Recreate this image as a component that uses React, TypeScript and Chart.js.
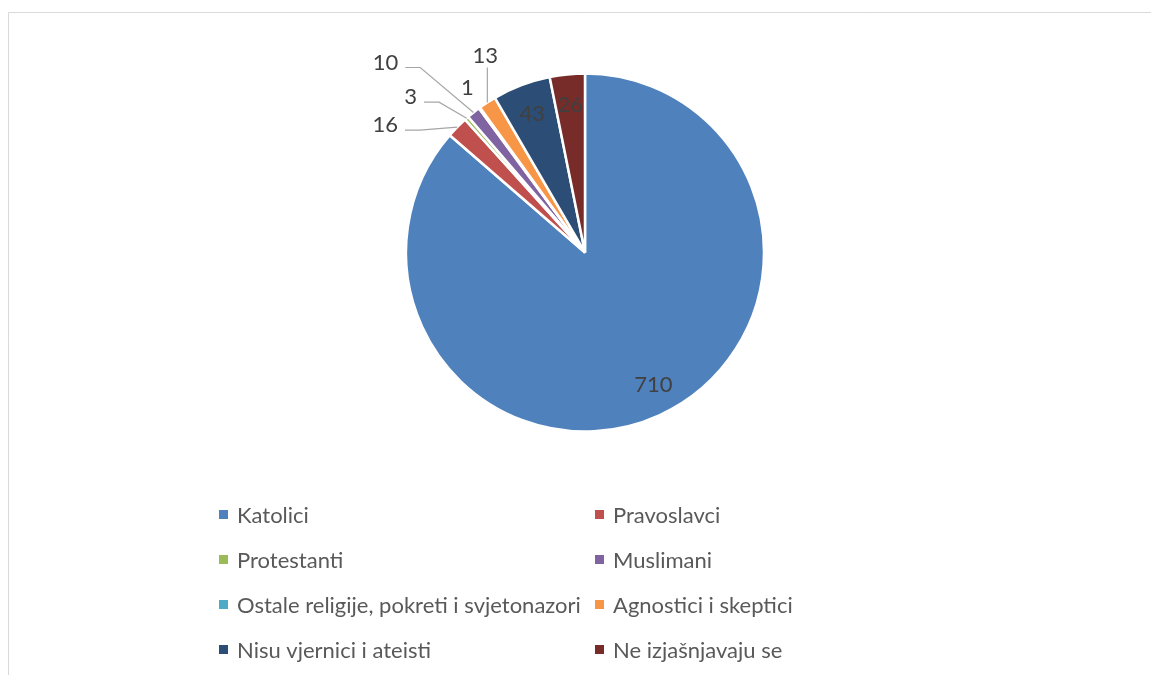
import React, { useEffect, useRef } from "react";
import { Chart, registerables } from "chart.js";

Chart.register(...registerables);

const categories = [
  "Katolici",
  "Pravoslavci",
  "Protestanti",
  "Muslimani",
  "Ostale religije, pokreti i svjetonazori",
  "Agnostici i skeptici",
  "Nisu vjernici i ateisti",
  "Ne izjašnjavaju se",
];
const counts = [710, 16, 3, 10, 1, 13, 43, 26];
const sliceColors = [
  "#4F81BD",
  "#C0504D",
  "#9BBB59",
  "#8064A2",
  "#4BACC6",
  "#F79646",
  "#2C4D75",
  "#772C2A",
];

// label placement: null = inside the slice, otherwise offset from the slice's outer edge
const labelOffsets: ([number, number] | null)[] = [
  null,
  [-72, -2],
  [-56, -21],
  [-88, -50],
  [-12, -20],
  [-2, -47],
  null,
  null,
];

const FONT = 'Lato, "Open Sans", sans-serif';

const framePlugin = {
  id: "frame",
  beforeDraw(chart: any) {
    const ctx = chart.ctx;
    ctx.save();
    ctx.fillStyle = "#ffffff";
    ctx.fillRect(0, 0, chart.width, chart.height);
    ctx.strokeStyle = "#d9d9d9";
    ctx.lineWidth = 1;
    ctx.beginPath();
    ctx.moveTo(8.5, chart.height);
    ctx.lineTo(8.5, 12.5);
    ctx.lineTo(chart.width, 12.5);
    ctx.stroke();
    ctx.restore();
  },
};

const labelPlugin = {
  id: "sliceLabels",
  afterDatasetsDraw(chart: any) {
    const ctx = chart.ctx;
    const meta = chart.getDatasetMeta(0);
    const values = chart.data.datasets[0].data;
    ctx.save();
    ctx.font = `22px ${FONT}`;
    ctx.fillStyle = "#404040";
    ctx.textAlign = "center";
    ctx.textBaseline = "middle";
    meta.data.forEach((arc: any, i: number) => {
      const { x, y, startAngle, endAngle, outerRadius } = arc.getProps(
        ["x", "y", "startAngle", "endAngle", "outerRadius"],
        true
      );
      const mid = (startAngle + endAngle) / 2;
      const text = String(values[i]);
      const off = labelOffsets[i];
      if (!off) {
        const r = outerRadius * 0.83;
        const a = i === 0 ? mid - 0.05 : mid;
        ctx.fillText(text, x + Math.cos(a) * r, y + Math.sin(a) * r);
        return;
      }
      const ex = x + Math.cos(mid) * outerRadius;
      const ey = y + Math.sin(mid) * outerRadius;
      const tx = ex + off[0];
      const ty = ey + off[1];
      const w = ctx.measureText(text).width;
      const dist = Math.hypot(off[0], off[1]);
      if (dist > 30) {
        ctx.strokeStyle = "#a6a6a6";
        ctx.lineWidth = 1.2;
        ctx.beginPath();
        if (Math.abs(off[0]) < Math.abs(off[1]) * 0.3) {
          ctx.moveTo(ex, ey);
          ctx.lineTo(ex, ty + 12);
        } else {
          const lx = tx + w / 2 + 7;
          const ly = ty + 5;
          ctx.moveTo(ex, ey);
          ctx.lineTo(lx + 15, ly);
          ctx.lineTo(lx, ly);
        }
        ctx.stroke();
      }
      ctx.fillText(text, tx, ty);
    });
    ctx.restore();
  },
};

const legendPlugin = {
  id: "gridLegend",
  afterDraw(chart: any) {
    const ctx = chart.ctx;
    const labels = chart.data.labels;
    const colors = chart.data.datasets[0].backgroundColor;
    const x0 = 219;
    const y0 = 514.5;
    const colW = 376;
    const rowH = 45;
    ctx.save();
    ctx.font = `22px ${FONT}`;
    ctx.textBaseline = "middle";
    ctx.textAlign = "left";
    labels.forEach((lab: string, i: number) => {
      const col = i % 2;
      const row = Math.floor(i / 2);
      const x = x0 + col * colW;
      const y = y0 + row * rowH;
      ctx.fillStyle = colors[i];
      ctx.fillRect(x, y - 4.5, 9, 9);
      ctx.fillStyle = "#595959";
      ctx.fillText(lab, x + 18, y + 1);
    });
    ctx.restore();
  },
};

export default function App() {
  const canvasRef = useRef<HTMLCanvasElement | null>(null);

  useEffect(() => {
    if (!canvasRef.current) return;
    const chart = new Chart(canvasRef.current, {
      type: "pie",
      data: {
        labels: categories,
        datasets: [
          {
            data: counts,
            backgroundColor: sliceColors,
            borderColor: "#ffffff",
            borderWidth: 2.5,
          },
        ],
      },
      options: {
        responsive: false,
        animation: false,
        radius: 179,
        layout: { padding: { left: 406, right: 387, top: 73, bottom: 243 } },
        plugins: {
          legend: { display: false },
          tooltip: { enabled: false },
        },
      } as any,
      plugins: [framePlugin, labelPlugin, legendPlugin],
    });
    return () => chart.destroy();
  }, []);

  return (
    <div style={{ position: "fixed", left: 0, top: 0, width: 1151, height: 675, background: "#fff" }}>
      <canvas ref={canvasRef} width={1151} height={675} style={{ width: 1151, height: 675 }} />
    </div>
  );
}
